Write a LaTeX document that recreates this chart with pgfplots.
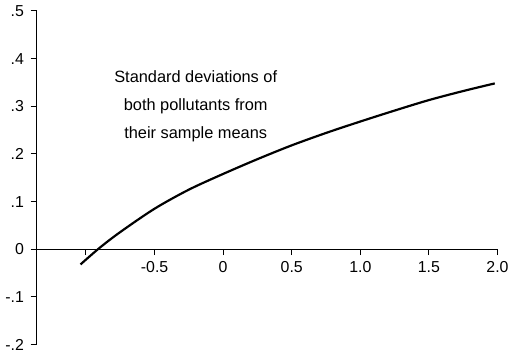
\documentclass[border=0pt]{standalone}
\usepackage{pgfplots}
\pgfplotsset{compat=1.18}
\usepackage{fontspec}
\setmainfont{Liberation Sans}
\begin{document}
\fontsize{16.5}{27}\selectfont
\begin{tikzpicture}
\begin{axis}[
  scale only axis,
  width=463bp, height=335bp,
  xmin=-1.36, xmax=2.0,
  ymin=-0.2, ymax=0.5,
  axis y line=left,
  axis x line=middle,
  axis line style={line width=1.2pt,-},
  xtick={-1,-0.5,0,0.5,1,1.5,2},
  xticklabels={,-0.5,0,0.5,1.0,1.5,2.0},
  ytick={-0.2,-0.1,0,0.1,0.2,0.3,0.4,0.5},
  yticklabels={-.2,-.1,0,.1,.2,.3,.4,.5},
  tick align=outside,
  major tick length=6bp,
  tick style={line width=1pt,black},
  every tick label/.append style={font=\fontsize{16}{18}\selectfont},
  xticklabel style={yshift=-1bp},
  yticklabel style={xshift=-1bp},
  clip=false,
]
\addplot[black, line width=2.2pt, smooth] coordinates {
(-1.04,-0.032) (-0.9,0.003) (-0.75,0.036) (-0.5,0.085) (-0.25,0.125)
(0,0.158) (0.25,0.189) (0.5,0.218) (0.75,0.244) (1.0,0.268)
(1.25,0.291) (1.5,0.313) (1.75,0.332) (1.98,0.348)
};
\node[align=center, font=\fontsize{16.5}{28.5}\selectfont] at (axis cs:-0.2,0.3)
  {Standard deviations of\\both pollutants from\\their sample means};
\end{axis}
\end{tikzpicture}
\end{document}
